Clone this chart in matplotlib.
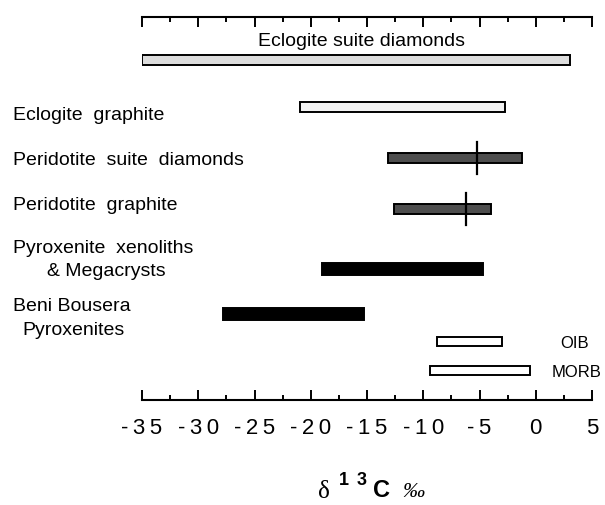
import numpy as np
import matplotlib.pyplot as plt
from matplotlib.transforms import blended_transform_factory
from matplotlib.ticker import MultipleLocator, FixedLocator, FixedFormatter

plt.rcParams['font.family'] = ['Liberation Sans', 'DejaVu Sans']

# delta13C ranges (permil)
groups = ['Eclogite suite diamonds', 'Eclogite graphite', 'Peridotite suite diamonds',
          'Peridotite graphite', 'Pyroxenite xenoliths', 'Beni Bousera', 'OIB', 'MORB']
lo = [-35.0, -21.0, -13.1, -12.6, -19.0, -27.8, -8.8, -9.4]
hi = [3.0, -2.7, -1.2, -4.0, -4.7, -15.3, -3.0, -0.5]
mode_groups = ['Peridotite suite diamonds', 'Peridotite graphite']
modes = [-5.2, -6.2]
tick_vals = [-35, -30, -25, -20, -15, -10, -5, 0, 5]

# layout (pixel rows) and styles
rows = [60, 107, 158, 209, 269, 314, 342, 371]
heights = [10, 10, 10, 10, 12, 12, 9, 9]
fills = ['#dcdcdc', '#f2f2f2', '#4e4e4e', '#4e4e4e', 'black', 'black', 'white', 'white']

fig = plt.figure(figsize=(6.05, 5.05), dpi=100)
W, H = 605, 505
ax = fig.add_axes([142 / W, 1 - 400 / H, (592 - 142) / W, (400 - 17) / H])

for i in range(len(groups)):
    ax.barh(rows[i], hi[i] - lo[i], left=lo[i], height=heights[i],
            color=fills[i], edgecolor='black', linewidth=1.4)

for g, m in zip(mode_groups, modes):
    r = rows[groups.index(g)]
    ax.plot([m, m], [r - 16, r + 16], color='black', lw=1.6)

ax.set_xlim(-35, 5)
ax.set_ylim(400, 17)
for s in ['left', 'right']:
    ax.spines[s].set_visible(False)
for s in ['top', 'bottom']:
    ax.spines[s].set_linewidth(1.5)
ax.set_yticks([])
ax.xaxis.set_major_locator(FixedLocator(tick_vals))
ax.xaxis.set_minor_locator(MultipleLocator(2.5))
ax.xaxis.set_major_formatter(FixedFormatter(['\u2009'.join(str(v)) for v in tick_vals]))
ax.tick_params(axis='x', which='both', direction='in', top=True, bottom=True, width=1.4)
ax.tick_params(axis='x', which='major', length=7, labelsize=16, pad=13)
ax.tick_params(axis='x', which='minor', length=3.5)

tr = blended_transform_factory(fig.transFigure, ax.transData)
fs = 14
ax.text(361 / W, 46, 'Eclogite suite diamonds', transform=tr, ha='center', va='baseline', fontsize=fs)
left_labels = [('Eclogite  graphite', 13, 120), ('Peridotite  suite  diamonds', 13, 165),
               ('Peridotite  graphite', 13, 210), ('Pyroxenite  xenoliths', 13, 253),
               ('& Megacrysts', 47, 276), ('Beni Bousera', 13, 311), ('Pyroxenites', 22, 335)]
for t, x, y in left_labels:
    ax.text(x / W, y, t, transform=tr, ha='left', va='baseline', fontsize=fs)
ax.text(560 / W, 348, 'OIB', transform=tr, ha='left', va='baseline', fontsize=12)
ax.text(552 / W, 377, 'MORB', transform=tr, ha='left', va='baseline', fontsize=12)

# x label: delta 13C permil
fig.text(318 / W, 1 - 498 / H, '\u03b4', fontsize=18, family='Liberation Serif', va='baseline')
fig.text(339 / W, 1 - 485 / H, '1', fontsize=13, fontweight='bold', va='baseline')
fig.text(357 / W, 1 - 485 / H, '3', fontsize=13, fontweight='bold', va='baseline')
fig.text(373 / W, 1 - 497 / H, 'C', fontsize=17, fontweight='bold', va='baseline')
fig.text(402 / W, 1 - 497 / H, '\u2030', fontsize=16, family='Liberation Serif', style='italic', va='baseline')

fig.savefig('out.png', dpi=100)
